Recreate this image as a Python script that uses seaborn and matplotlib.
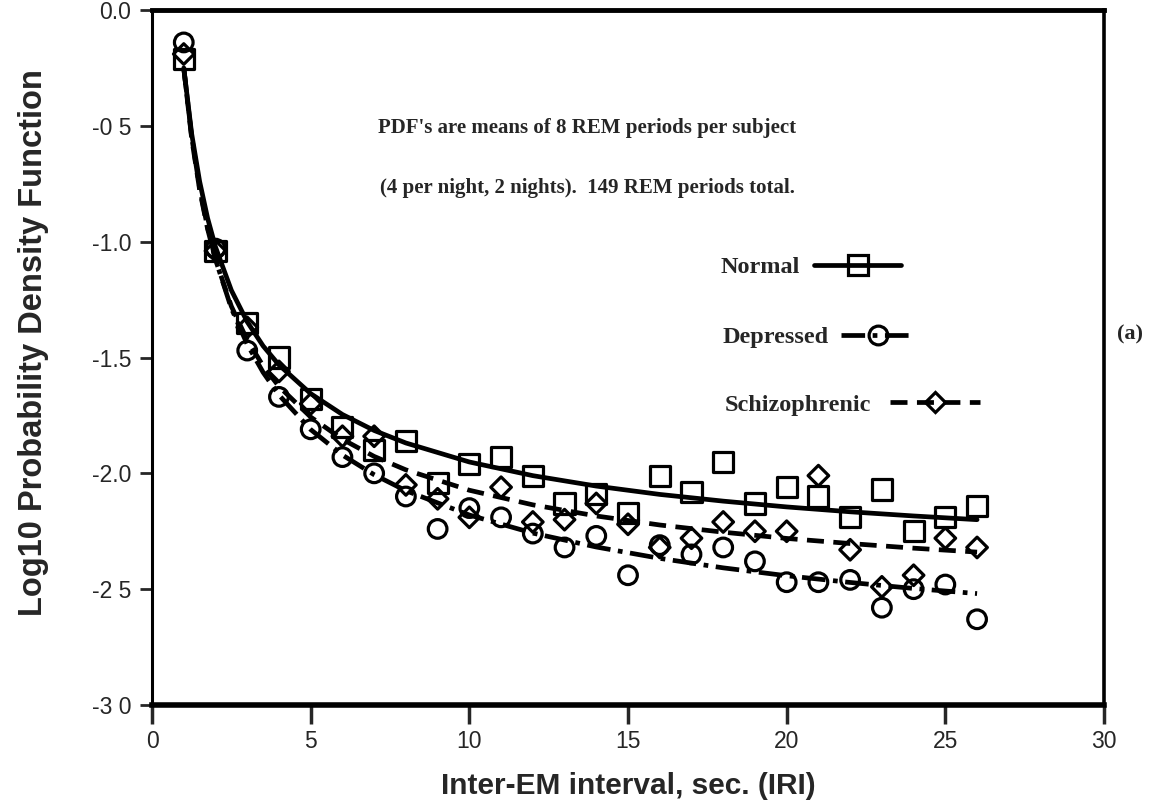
import matplotlib
matplotlib.use("Agg")
import matplotlib.pyplot as plt
from matplotlib.lines import Line2D
from matplotlib.legend import Legend
import seaborn as sns

iri = list(range(1, 27))
normal = [-0.21, -1.04, -1.35, -1.50, -1.68, -1.80, -1.90, -1.86, -2.04, -1.96,
          -1.93, -2.01, -2.13, -2.09, -2.17, -2.01, -2.08, -1.95, -2.13, -2.06,
          -2.10, -2.19, -2.07, -2.25, -2.19, -2.14]
depressed = [-0.14, -1.03, -1.47, -1.67, -1.81, -1.93, -2.00, -2.10, -2.24, -2.15,
             -2.19, -2.26, -2.32, -2.27, -2.44, -2.31, -2.35, -2.32, -2.38, -2.47,
             -2.47, -2.46, -2.58, -2.50, -2.48, -2.63]
schizo = [-0.19, -1.04, -1.37, -1.56, -1.70, -1.84, -1.84, -2.05, -2.11, -2.19,
          -2.06, -2.21, -2.20, -2.13, -2.22, -2.32, -2.28, -2.21, -2.25, -2.25,
          -2.01, -2.33, -2.49, -2.44, -2.28, -2.32]

# fitted curves, values
fit_x = [1, 1.25, 1.5, 1.75, 2, 2.5, 3, 3.5, 4, 5, 6, 7, 8, 10, 12, 14, 16, 18, 20, 22, 24, 26]
fit_normal = [-0.25, -0.535, -0.740, -0.898, -1.023, -1.210, -1.346, -1.450, -1.532, -1.656,
              -1.746, -1.815, -1.869, -1.951, -2.010, -2.055, -2.091, -2.120, -2.145,
              -2.166, -2.184, -2.200]
fit_depressed = [-0.25, -0.548, -0.768, -0.939, -1.077, -1.288, -1.443, -1.564, -1.662, -1.811,
                 -1.921, -2.006, -2.075, -2.180, -2.258, -2.318, -2.367, -2.408, -2.442,
                 -2.471, -2.497, -2.519]
fit_schizo = [-0.25, -0.555, -0.776, -0.944, -1.078, -1.279, -1.425, -1.536, -1.625, -1.757,
              -1.853, -1.927, -1.985, -2.073, -2.136, -2.184, -2.223, -2.254, -2.281,
              -2.303, -2.323, -2.340]

x_ticks = [0, 5, 10, 15, 20, 25, 30]
y_ticks = [0.0, -0.5, -1.0, -1.5, -2.0, -2.5, -3.0]
y_tick_labels = ["0.0", "-0 5", "-1.0", "-1.5", "-2.0", "-2 5", "-3 0"]

sns.set_style("ticks")
plt.rcParams['font.family'] = ['Liberation Sans', 'DejaVu Sans']

fig = plt.figure(figsize=(11.5, 8.07), dpi=100)
ax = fig.add_axes([0.1322, 0.1264, 0.8278, 0.8612])

dashdot = (0, (5, 1.6, 1, 1.6))
dashed = (0, (3.6, 2.0))

sns.lineplot(x=fit_x, y=fit_normal, color='black', linewidth=3.4, linestyle='-', ax=ax)
sns.lineplot(x=fit_x, y=fit_depressed, color='black', linewidth=3.4, linestyle=dashdot, ax=ax)
sns.lineplot(x=fit_x, y=fit_schizo, color='black', linewidth=3.4, linestyle=dashed, ax=ax)

sns.scatterplot(x=iri, y=normal, marker='s', s=210, facecolor='none',
                edgecolor='black', linewidth=2.3, ax=ax, zorder=3)
sns.scatterplot(x=iri, y=depressed, marker='o', s=180, facecolor='none',
                edgecolor='black', linewidth=2.3, ax=ax, zorder=3)
sns.scatterplot(x=iri, y=schizo, marker='D', s=110, facecolor='none',
                edgecolor='black', linewidth=2.3, ax=ax, zorder=3)

ax.set_xlim(0, 30)
ax.set_ylim(-3.0, 0.0)
ax.set_xticks(x_ticks)
ax.set_xticklabels([str(t) for t in x_ticks])
ax.set_yticks(y_ticks)
ax.set_yticklabels(y_tick_labels)
ax.tick_params(axis='x', direction='out', length=14, width=2.5, labelsize=16.5, pad=4)
ax.tick_params(axis='y', direction='out', length=9, width=2.0, labelsize=16.5, pad=6)
for side, lw in [('left', 2.2), ('right', 2.6), ('top', 3.5), ('bottom', 4.0)]:
    ax.spines[side].set_linewidth(lw)
    ax.spines[side].set_color('black')

ax.set_xlabel('Inter-EM interval, sec. (IRI)', fontsize=21.5, fontweight='bold')
ax.xaxis.set_label_coords(0.5, -0.097)
ax.set_ylabel('Log10 Probability Density Function', fontsize=23.5, fontweight='bold')
ax.yaxis.set_label_coords(-0.108, 0.522)

serif = ['Liberation Serif', 'DejaVu Serif']
ax.text(0.457, 0.830, "PDF's are means of 8 REM periods per subject", transform=ax.transAxes,
        ha='center', va='center', fontsize=15, fontweight='bold', family=serif)
ax.text(0.457, 0.744, "(4 per night, 2 nights).  149 REM periods total.", transform=ax.transAxes,
        ha='center', va='center', fontsize=15, fontweight='bold', family=serif)

# legend entries: label first, then the line sample with its marker
entries = [
    ('Normal', '-', 's', 14.5, 3.6, 0.58, 0.597, 0.630),
    ('Depressed', dashdot, 'o', 13.5, 3.0, 0.53, 0.599, 0.529),
    ('Schizophrenic', dashed, 'D', 10.5, 3.7, 0.75, 0.602, 0.432),
]
for label, ls, mk, ms, hl, pad, lx, ly in entries:
    handle = Line2D([], [], color='black', linestyle=ls, linewidth=3.4, marker=mk,
                    markersize=ms, markerfacecolor='none', markeredgecolor='black',
                    markeredgewidth=2.3)
    leg = Legend(ax, [handle], [label], loc='center left', bbox_to_anchor=(lx, ly),
                 bbox_transform=ax.transAxes, frameon=False, markerfirst=False,
                 numpoints=1, handlelength=hl, handletextpad=pad, borderpad=0,
                 borderaxespad=0, prop={'family': serif, 'weight': 'bold', 'size': 17.5})
    ax.add_artist(leg)

fig.text(0.9826, 0.585, '(a)', ha='center', va='center', fontsize=16,
         fontweight='bold', family=serif)

fig.savefig('out.png', dpi=100)
